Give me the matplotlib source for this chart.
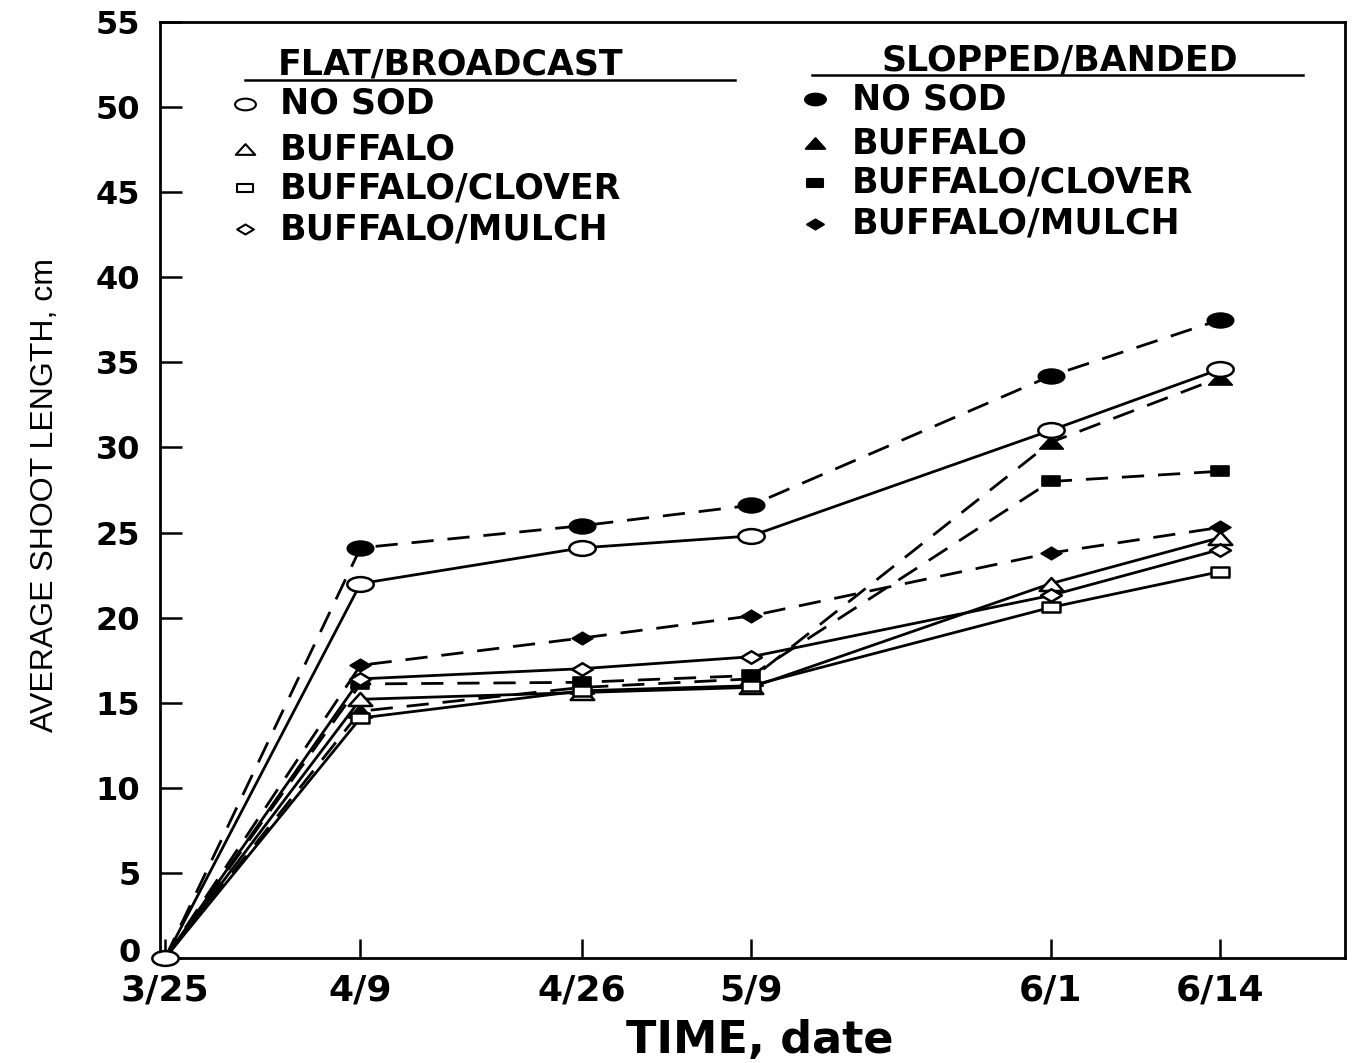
import numpy as np
import matplotlib
matplotlib.use("Agg")
import matplotlib.pyplot as plt
from matplotlib.path import Path
from matplotlib.transforms import ScaledTranslation
from datetime import datetime

# ------------------- data -------------------
date_labels = ["3/25", "4/9", "4/26", "5/9", "6/1", "6/14"]

# flat / broadcast (solid lines, open markers)
flat_no_sod = [0, 22.0, 24.1, 24.8, 31.0, 34.6]
flat_buffalo = [0, 15.2, 15.6, 15.9, 22.0, 24.7]
flat_clover = [0, 14.1, 15.7, 16.0, 20.6, 22.7]
flat_mulch = [0, 16.4, 17.0, 17.7, 21.3, 24.0]

# slopped / banded (dashed lines, filled markers)
slop_no_sod = [0, 24.1, 25.4, 26.6, 34.2, 37.5]
slop_buffalo = [0, 14.5, 15.9, 16.4, 30.3, 34.1]
slop_clover = [0, 16.1, 16.2, 16.6, 28.0, 28.6]
slop_mulch = [0, 17.2, 18.8, 20.1, 23.8, 25.3]

series_names = ["NO SOD", "BUFFALO", "BUFFALO/CLOVER", "BUFFALO/MULCH"]
# ---------------------------------------------------------------

# days since first sampling date, so the x spacing follows the calendar
d0 = datetime.strptime(date_labels[0], "%m/%d")
days = [(datetime.strptime(d, "%m/%d") - d0).days for d in date_labels]


def squashed(verts):
    """Closed marker path, wider than tall (the scan is stretched sideways)."""
    verts = list(verts) + [verts[0]]
    codes = [Path.MOVETO] + [Path.LINETO] * (len(verts) - 2) + [Path.CLOSEPOLY]
    return Path(verts, codes)


circ = Path.unit_circle()
m_circle = Path(circ.vertices * [1, 0.56], circ.codes)
m_triangle = squashed([(-1, -0.55), (1, -0.55), (0, 0.55)])
m_square = squashed([(-1, -0.55), (1, -0.55), (1, 0.55), (-1, 0.55)])
m_diamond = squashed([(-1, 0), (0, 0.6), (1, 0), (0, -0.6)])

markers = [m_circle, m_triangle, m_square, m_diamond]
msizes = [19, 17, 13, 15]
leg_sizes = [15, 14, 11, 12]

FONT = "DejaVu Sans"
fig = plt.figure(figsize=(13.52, 10.63), dpi=100)
ax = fig.add_axes([0.1183, 0.0988, 0.8765, 0.8805])

dash = (0, (8, 5))
flat_vals = [flat_no_sod, flat_buffalo, flat_clover, flat_mulch]
slop_vals = [slop_no_sod, slop_buffalo, slop_clover, slop_mulch]

for vals, mk, ms in zip(slop_vals, markers, msizes):
    ax.plot(days, vals, color="black", lw=2, linestyle=dash, marker=mk,
            ms=ms, mfc="black", mec="black", mew=1.2,
            markevery=list(range(1, len(days))), zorder=3)

for i, (vals, mk, ms) in enumerate(zip(flat_vals, markers, msizes)):
    every = None if i == 0 else list(range(1, len(days)))
    ax.plot(days, vals, color="black", lw=2, linestyle="-", marker=mk,
            ms=ms, mfc="white", mec="black", mew=1.8,
            markevery=every, zorder=4 if i else 5, clip_on=False)

ax.set_xlim(-0.4, 90.6)
ax.set_ylim(0, 55)
ax.set_xticks(days, labels=date_labels)
ax.set_yticks(range(0, 56, 5))

for s in ax.spines.values():
    s.set_linewidth(2)
ax.tick_params(axis="y", direction="in", length=16, width=1.8, pad=14)
ax.tick_params(axis="x", direction="in", length=14, width=1.8, pad=11)
for lab in ax.get_yticklabels():
    lab.set_fontfamily(FONT)
    lab.set_fontweight("bold")
    lab.set_fontsize(23)
for lab in ax.get_xticklabels():
    lab.set_fontfamily(FONT)
    lab.set_fontweight("bold")
    lab.set_fontsize(26)

# lift the "0" a little so it clears the "3/25" date below it
zero_lab = ax.get_yticklabels()[0]
zero_lab.set_transform(zero_lab.get_transform()
                       + ScaledTranslation(0, 6 / 72, fig.dpi_scale_trans))

fig.text(0.0333, 0.5343, "AVERAGE SHOOT LENGTH, cm", rotation=90,
         ha="center", va="center", fontsize=23,
         family=["Liberation Sans", "DejaVu Sans"])
fig.text(0.562, 0.021, "TIME, date", ha="center", va="center",
         fontsize=32, fontweight="bold", family=FONT)

# hand-drawn legend, two columns with underlined headers
leg_font = dict(fontsize=25, fontweight="bold", family=FONT, va="center",
                transform=ax.transAxes)


def legend_column(title, title_xy, line_x, line_y, mark_x, text_x, rows_y, filled):
    ax.text(title_xy[0], title_xy[1], title, ha="center", **leg_font)
    ax.plot(line_x, [line_y, line_y], color="black", lw=1.8,
            transform=ax.transAxes)
    for name, y, mk, ms in zip(series_names, rows_y, markers, leg_sizes):
        ax.plot([mark_x], [y], marker=mk, ms=ms, color="black",
                mfc="black" if filled else "white", mec="black", mew=1.5,
                transform=ax.transAxes, linestyle="none")
        ax.text(text_x, y, name, ha="left", **leg_font)


legend_column("FLAT/BROADCAST", (0.2456, 0.9551), [0.0717, 0.4852], 0.938,
              0.0717, 0.1013, [0.9124, 0.8643, 0.8226, 0.7788], False)
legend_column("SLOPPED/BANDED", (0.7595, 0.9594), [0.5502, 0.9646], 0.9434,
              0.5527, 0.584, [0.9177, 0.8707, 0.828, 0.7842], True)

fig.savefig("out.png", dpi=100)
